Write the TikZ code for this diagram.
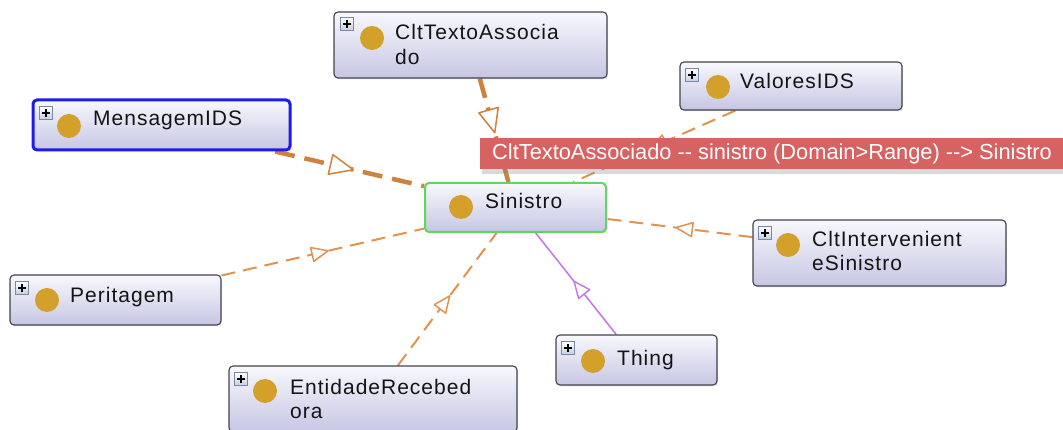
\documentclass[tikz,border=0pt]{standalone}
\usepackage{fontspec}
\newfontfamily\clsfont[LetterSpace=4.8]{Liberation Sans}
\newfontfamily\tipfont{Liberation Sans}
\usetikzlibrary{arrows.meta,decorations.markings,shadows}
\pgfdeclarelayer{background}
\pgfsetlayers{background,main}

\definecolor{boxtop}{RGB}{248,248,253}
\definecolor{boxbot}{RGB}{198,198,228}
\definecolor{boxline}{RGB}{66,66,74}
\definecolor{owlgold}{RGB}{212,160,44}
\definecolor{isathin}{RGB}{222,148,80}
\definecolor{isathick}{RGB}{206,130,62}
\definecolor{thingline}{RGB}{196,124,226}
\definecolor{tipred}{RGB}{214,98,98}
\definecolor{selgreen}{RGB}{96,214,96}
\definecolor{selblue}{RGB}{28,28,236}
\definecolor{plusline}{RGB}{120,138,168}
\definecolor{plusbot}{RGB}{196,206,222}

\tikzset{
  clsbox/.style={rectangle, rounded corners=4pt, draw=boxline, line width=1.1pt,
    top color=boxtop, bottom color=boxbot, inner sep=0pt,
    drop shadow={shadow xshift=1pt, shadow yshift=-1.5pt, opacity=0.18}},
  owldot/.style={circle, fill=owlgold, minimum size=24pt, inner sep=0pt},
  expander/.style={rectangle, draw=plusline, line width=0.7pt, top color=white,
    bottom color=plusbot, minimum size=13pt, inner sep=0pt,
    path picture={
      \draw[black, line width=1.5pt]
        ([xshift=-4pt]path picture bounding box.center) -- ([xshift=4pt]path picture bounding box.center)
        ([yshift=-4pt]path picture bounding box.center) -- ([yshift=4pt]path picture bounding box.center);}},
  clstext/.style={anchor=base west, inner sep=0pt, text=black!92,
    font=\clsfont\fontsize{21}{24}\selectfont},
  midtip/.style n args={2}{postaction={decorate}, decoration={markings,
    mark=at position 0.53 with {\pgfsetdash{}{0pt}\pgfsetlinewidth{1.5pt}%
      \arrow{Triangle[length=#1,width=#2,fill=white,round]}}}},
  isa/.style={draw=isathin, line width=2pt, dash pattern=on 14pt off 8pt, midtip={19pt}{16pt}},
  isabold/.style={draw=isathick, line width=4.5pt, dash pattern=on 20pt off 10pt, midtip={26pt}{22pt}},
  thingedge/.style={draw=thingline, line width=1.6pt, midtip={19pt}{16pt}},
  tipbox/.style={rectangle, fill=tipred, text=white, inner xsep=12pt, inner ysep=0pt,
    minimum height=31pt, font=\tipfont\fontsize{21.8}{24}\selectfont,
    drop shadow={shadow xshift=2pt, shadow yshift=-5pt, opacity=0.3}}
}

\begin{document}
\begin{tikzpicture}[x=1pt, y=-1pt]
  \useasboundingbox (0,0) rectangle (1063,430);
  \clip (0,0) rectangle (1063,430);

  % class boxes
  \node[clsbox, minimum width=273pt, minimum height=66pt] (txt) at (470.5,45) {};
  \node[clsbox, minimum width=257pt, minimum height=50pt, draw=selblue, line width=3pt] (men) at (161.5,125) {};
  \node[clsbox, minimum width=222pt, minimum height=48pt] (val) at (791,86) {};
  \node[clsbox, minimum width=181pt, minimum height=49pt, draw=selgreen, line width=2pt] (sin) at (515.5,207.5) {};
  \node[clsbox, minimum width=253pt, minimum height=66pt] (int) at (879.5,253) {};
  \node[clsbox, minimum width=211pt, minimum height=50pt] (per) at (115.5,300) {};
  \node[clsbox, minimum width=161pt, minimum height=50pt] (thi) at (636.5,360) {};
  \node[clsbox, minimum width=288pt, minimum height=66pt] (ent) at (373,399) {};

  % expand buttons
  \node[expander] (txt-plus) at (347,24) {};
  \node[expander] (men-plus) at (46,113) {};
  \node[expander] (val-plus) at (692,75) {};
  \node[expander] (int-plus) at (765,233) {};
  \node[expander] (per-plus) at (22,288) {};
  \node[expander] (thi-plus) at (568,348) {};
  \node[expander] (ent-plus) at (241,379) {};

  % class icons
  \node[owldot] (txt-dot) at (372,38) {};
  \node[owldot] (men-dot) at (69,126) {};
  \node[owldot] (val-dot) at (718,87) {};
  \node[owldot] (sin-dot) at (461,207) {};
  \node[owldot] (int-dot) at (788,245) {};
  \node[owldot] (per-dot) at (47,300) {};
  \node[owldot] (thi-dot) at (593,361) {};
  \node[owldot] (ent-dot) at (265,391) {};

  % class names
  \node[clstext] (txt-a) at (395,40) {CltTextoAssocia};
  \node[clstext] (txt-b) at (395,65) {do};
  \node[clstext] (men-a) at (93,126) {MensagemIDS};
  \node[clstext] (val-a) at (740,89) {ValoresIDS};
  \node[clstext] (sin-a) at (485,209) {Sinistro};
  \node[clstext] (int-a) at (812,247) {CltIntervenient};
  \node[clstext] (int-b) at (812,271) {eSinistro};
  \node[clstext] (per-a) at (70,303) {Peritagem};
  \node[clstext] (thi-a) at (617,365) {Thing};
  \node[clstext] (ent-a) at (290,394) {EntidadeRecebed};
  \node[clstext] (ent-b) at (290,418) {ora};

  % subclass links
  \begin{pgfonlayer}{background}
    \draw[isabold] (men) -- (sin);
    \draw[isabold] (txt) -- (sin);
    \draw[isa] (val) -- (sin);
    \draw[isa] (int) -- (sin);
    \draw[isa] (per) -- (sin);
    \draw[isa] (ent) -- (sin);
    \draw[thingedge] (thi) -- (sin);
  \end{pgfonlayer}

  % hover tooltip
  \node[tipbox, anchor=west] (tip) at (480,154)
    {CltTextoAssociado -- sinistro (Domain>Range) --> Sinistro};
\end{tikzpicture}
\end{document}
